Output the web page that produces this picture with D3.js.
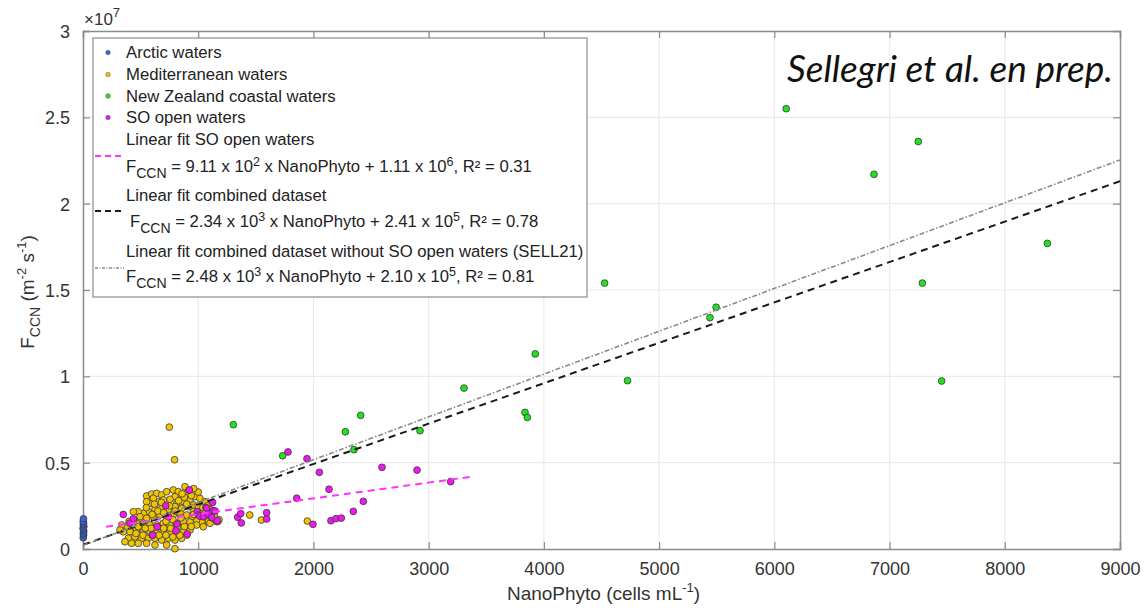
<!DOCTYPE html>
<html>
<head>
<meta charset="utf-8">
<script src="https://cdn.jsdelivr.net/npm/d3@7"></script>
<style>
  html, body { margin: 0; padding: 0; background: #fff; }
  svg { display: block; }
  text { font-family: "Liberation Sans", Arial, sans-serif; }
</style>
</head>
<body>
<svg id="chart" width="1145" height="610"></svg>
<script>
// ---------------- DATA (x: cells mL-1, y: FCCN in units of 1e6 m-2 s-1) ----------------
const xTicks = [0, 1000, 2000, 3000, 4000, 5000, 6000, 7000, 8000, 9000];
const xTickLabels = ["0", "1000", "2000", "3000", "4000", "5000", "6000", "7000", "8000", "9000"];
const yTicks = [0, 5, 10, 15, 20, 25, 30];
const yTickLabels = ["0", "0.5", "1", "1.5", "2", "2.5", "3"];

const arctic = [
  [2, 0.65], [5, 0.8], [3, 0.9], [6, 1.0], [4, 1.1], [1, 1.2], [7, 1.3], [3, 1.4], [5, 1.5], [2, 1.6], [4, 1.75]
];

const mediterranean = [
  [552, 3.07], [596, 3.18], [639, 3.22], [683, 3.13], [726, 3.32], [784, 3.42], [827, 3.32], [885, 3.61],
  [900, 3.22], [856, 2.93], [798, 3.03], [755, 2.88], [697, 2.84], [654, 2.74], [610, 2.93], [581, 2.64],
  [552, 2.74], [813, 2.64], [871, 2.74], [929, 2.84], [972, 3.03], [1015, 2.93], [1059, 2.74], [958, 2.55],
  [914, 2.45], [856, 2.35], [798, 2.45], [741, 2.30], [683, 2.35], [625, 2.30], [567, 2.16], [524, 2.06],
  [480, 2.16], [437, 2.16], [495, 1.87], [552, 1.78], [610, 1.87], [668, 1.97], [726, 1.87], [784, 1.97],
  [842, 2.06], [900, 1.97], [958, 2.16], [1015, 2.26], [1059, 2.06], [1102, 1.87], [1146, 1.68], [1088, 1.58],
  [1030, 1.58], [986, 1.68], [929, 1.58], [871, 1.58], [813, 1.49], [755, 1.39], [697, 1.49], [639, 1.39],
  [581, 1.39], [524, 1.49], [466, 1.49], [422, 1.39], [379, 1.29], [336, 1.39], [350, 1.00], [408, 1.00],
  [466, 1.10], [524, 1.00], [581, 1.00], [639, 0.91], [697, 1.00], [755, 1.00], [813, 0.91], [871, 1.00],
  [929, 1.10], [393, 0.62], [451, 0.71], [509, 0.62], [567, 0.62], [625, 0.62], [683, 0.52], [741, 0.62],
  [798, 0.52], [856, 0.62], [422, 0.33], [480, 0.33], [552, 0.33], [625, 0.23], [726, 0.23], [798, 0.02],
  [364, 0.42], [321, 1.10], [986, 1.39], [1044, 1.29], [1102, 1.49], [1160, 1.58], [1172, 1.60], [1120, 1.80],
  [600, 2.00], [650, 2.20], [700, 2.10], [750, 2.50], [800, 2.20], [850, 1.80], [900, 2.60], [950, 1.90],
  [1000, 2.50], [550, 2.40], [620, 2.60], [680, 2.70], [720, 1.60], [780, 1.70], [830, 2.80], [880, 3.00],
  [940, 3.10], [960, 2.00], [1040, 2.40], [1080, 2.50], [700, 1.20], [760, 1.20], [820, 1.30], [880, 1.30],
  [940, 1.30], [590, 1.20], [540, 1.20], [480, 1.30], [440, 1.70], [400, 1.60], [660, 0.80], [720, 0.80],
  [780, 0.70], [600, 0.80], [520, 0.80], [460, 0.90], [840, 0.80], [900, 0.80], [1000, 3.30], [920, 3.40],
  [960, 3.50], [860, 3.20], [1100, 2.30], [1120, 2.10], [1140, 1.90], [1180, 1.70],
  [749, 7.06], [795, 5.17], [1447, 1.97], [1548, 1.68], [1947, 1.62]
];

const newZealand = [
  [1305, 7.20], [1733, 5.40], [2277, 6.79], [2410, 7.74], [2352, 5.75], [2925, 6.85], [3307, 9.32],
  [3836, 7.91], [3856, 7.62], [3925, 11.3], [4527, 15.4], [4726, 9.75], [5441, 13.4], [5495, 14.0],
  [6103, 25.5], [6865, 21.7], [7249, 23.6], [7285, 15.4], [7452, 9.73], [8370, 17.7]
];

const soOpen = [
  [350, 2.0], [405, 1.5], [437, 1.75], [605, 0.81], [645, 1.29], [718, 2.5], [741, 1.87], [807, 1.05],
  [816, 1.45], [905, 0.87], [923, 3.42], [992, 2.16], [1004, 1.97], [1015, 1.9], [1044, 1.87], [1067, 2.4],
  [1073, 2.36], [1088, 2.03], [1117, 1.83], [1125, 2.7], [1131, 2.22], [1146, 2.2], [1166, 1.64],
  [1342, 1.84], [1369, 2.05], [1374, 1.51], [1594, 2.10], [1594, 1.74], [1779, 5.62], [1855, 2.94],
  [1944, 5.23], [1996, 1.43], [2051, 4.44], [2135, 3.46], [2152, 1.64], [2196, 1.76], [2242, 1.79],
  [2346, 2.18], [2433, 2.76], [2595, 4.73], [2899, 4.57], [3191, 3.90]
];

// fitted lines (end points)
const fitSO = [[200, 1.29], [3400, 4.21]];
const fitCombined = [[0, 0.241], [9000, 21.3]];
const fitSell21 = [[0, 0.21], [9000, 22.53]];

const legendLabels = [
  "Arctic waters", "Mediterranean waters", "New Zealand coastal waters", "SO open waters",
  "Linear fit SO open waters", "Linear fit combined dataset",
  "Linear fit combined dataset without SO open waters (SELL21)"
];
const equations = [
  ["9.11", "2", "1.11", "6", "0.31"],
  ["2.34", "3", "2.41", "5", "0.78"],
  ["2.48", "3", "2.10", "5", "0.81"]
];

// ---------------- STYLE ----------------
const colors = { arctic: "#3565d6", med: "#f0c400", nz: "#22e022", so: "#ee18ee" };
const axisColor = "#8c8c8c";
const textColor = "#333333";
const gridColor = "#ebebeb";

const m = { left: 83, right: 1120, top: 31, bottom: 549 };

const svg = d3.select("#chart");
const x = d3.scaleLinear().domain([0, 9000]).range([m.left, m.right]);
const y = d3.scaleLinear().domain([0, 30]).range([m.bottom, m.top]);

// grid
const grid = svg.append("g");
grid.selectAll(".gx").data(xTicks.slice(1, -1)).enter().append("line")
  .attr("x1", d => x(d)).attr("x2", d => x(d)).attr("y1", m.top).attr("y2", m.bottom)
  .attr("stroke", gridColor).attr("stroke-width", 1.2);
grid.selectAll(".gy").data(yTicks.slice(1, -1)).enter().append("line")
  .attr("y1", d => y(d)).attr("y2", d => y(d)).attr("x1", m.left).attr("x2", m.right)
  .attr("stroke", gridColor).attr("stroke-width", 1.2);

// axes with inward ticks
const tickLen = 7;
const xAxisB = d3.axisBottom(x).tickValues(xTicks).tickSize(-tickLen).tickPadding(tickLen + 6)
  .tickFormat((d, i) => xTickLabels[i]);
const gxb = svg.append("g").attr("transform", `translate(0,${m.bottom})`).call(xAxisB);
const xAxisT = d3.axisTop(x).tickValues(xTicks).tickSize(-tickLen).tickFormat("");
const gxt = svg.append("g").attr("transform", `translate(0,${m.top})`).call(xAxisT);
const yAxisL = d3.axisLeft(y).tickValues(yTicks).tickSize(-tickLen).tickPadding(tickLen + 6)
  .tickFormat((d, i) => yTickLabels[i]);
const gyl = svg.append("g").attr("transform", `translate(${m.left},0)`).call(yAxisL);
const yAxisR = d3.axisRight(y).tickValues(yTicks).tickSize(-tickLen).tickFormat("");
const gyr = svg.append("g").attr("transform", `translate(${m.right},0)`).call(yAxisR);

[gxb, gxt, gyl, gyr].forEach(g => {
  g.select(".domain").attr("stroke", axisColor).attr("stroke-width", 1.5);
  g.selectAll(".tick line").attr("stroke", axisColor).attr("stroke-width", 1.2);
  g.selectAll(".tick text").attr("fill", textColor).style("font-size", "18px")
    .style("font-family", "'Liberation Sans', Arial, sans-serif");
});
gyl.selectAll(".tick text").attr("dy", "0.36em");

// scale factor label
const sf = svg.append("text").attr("x", 84).attr("y", 25).attr("fill", textColor)
  .style("font-size", "17px");
sf.append("tspan").text("×10");
sf.append("tspan").attr("dy", -8).style("font-size", "13px").text("7");

// axis titles
const xl = svg.append("text").attr("x", (m.left + m.right) / 2 + 2).attr("y", 600)
  .attr("text-anchor", "middle").attr("fill", textColor).style("font-size", "19px");
xl.append("tspan").text("NanoPhyto (cells mL");
xl.append("tspan").attr("dy", -8).style("font-size", "13px").text("-1");
xl.append("tspan").attr("dy", 8).text(")");

const yl = svg.append("text").attr("transform", "translate(34,292) rotate(-90)")
  .attr("text-anchor", "middle").attr("fill", textColor).style("font-size", "19px");
yl.append("tspan").text("F");
yl.append("tspan").attr("dy", 6).style("font-size", "14px").text("CCN");
yl.append("tspan").attr("dy", -6).text(" (m");
yl.append("tspan").attr("dy", -8).style("font-size", "13px").text("-2");
yl.append("tspan").attr("dy", 8).text(" s");
yl.append("tspan").attr("dy", -8).style("font-size", "13px").text("-1");
yl.append("tspan").attr("dy", 8).text(")");

// clip (for fit lines only)
svg.append("clipPath").attr("id", "clip").append("rect")
  .attr("x", m.left).attr("y", m.top).attr("width", m.right - m.left).attr("height", m.bottom - m.top);
const pts = svg.append("g");
const plot = svg.append("g").attr("clip-path", "url(#clip)");

function drawPoints(data, color) {
  pts.append("g").selectAll("circle").data(data).enter().append("circle")
    .attr("cx", d => x(d[0])).attr("cy", d => y(d[1])).attr("r", 3.4)
    .attr("fill", color).attr("stroke", "#3a3a3a").attr("stroke-width", 0.8);
}
drawPoints(arctic, colors.arctic);
drawPoints(mediterranean, colors.med);
drawPoints(newZealand, colors.nz);
drawPoints(soOpen, colors.so);

const line = d3.line().x(d => x(d[0])).y(d => y(d[1]));
plot.append("path").datum(fitSO).attr("d", line).attr("fill", "none")
  .attr("stroke", "#ff33ff").attr("stroke-width", 2).attr("stroke-dasharray", "7,5");
plot.append("path").datum(fitCombined).attr("d", line).attr("fill", "none")
  .attr("stroke", "#1a1a1a").attr("stroke-width", 2).attr("stroke-dasharray", "7,5");
plot.append("path").datum(fitSell21).attr("d", line).attr("fill", "none")
  .attr("stroke", "#8a8a8a").attr("stroke-width", 1.6).attr("stroke-dasharray", "5,2,1.5,2");

// legend
const LF = "16.7px";
const lg = svg.append("g");
lg.append("rect").attr("x", 93).attr("y", 38).attr("width", 494).attr("height", 259)
  .attr("fill", "#fff").attr("stroke", axisColor).attr("stroke-width", 1.2);

const markerRows = [
  { c: colors.arctic, yb: 58 }, { c: colors.med, yb: 80 }, { c: colors.nz, yb: 101.5 }, { c: colors.so, yb: 123 }
];
markerRows.forEach((r, i) => {
  lg.append("circle").attr("cx", 108).attr("cy", r.yb - 5.5).attr("r", 2.3)
    .attr("fill", r.c).attr("stroke", "#555").attr("stroke-width", 0.5);
  lg.append("text").attr("x", 126).attr("y", r.yb).attr("fill", "#222").style("font-size", LF)
    .text(legendLabels[i]);
});
const fitRows = [
  { title: 145, eq: 171.5, lineY: 156, color: "#ff33ff", dash: "6,4", w: 1.8, ex: 126 },
  { title: 200.5, eq: 226.5, lineY: 211, color: "#1a1a1a", dash: "6,4", w: 1.8, ex: 130 },
  { title: 256.5, eq: 281.5, lineY: 268, color: "#8a8a8a", dash: "3,1.5,1,1.5", w: 1.3, ex: 126 }
];
fitRows.forEach((r, i) => {
  lg.append("text").attr("x", 126).attr("y", r.title).attr("fill", "#222").style("font-size", LF)
    .text(legendLabels[4 + i]);
  lg.append("line").attr("x1", 95).attr("x2", 124).attr("y1", r.lineY).attr("y2", r.lineY)
    .attr("stroke", r.color).attr("stroke-width", r.w).attr("stroke-dasharray", r.dash);
  const e = equations[i];
  const t = lg.append("text").attr("x", r.ex).attr("y", r.eq).attr("fill", "#222").style("font-size", LF);
  t.append("tspan").text("F");
  t.append("tspan").attr("dy", 6).style("font-size", "14px").text("CCN");
  t.append("tspan").attr("dy", -6).text(` = ${e[0]} x 10`);
  t.append("tspan").attr("dy", -6).style("font-size", "12.5px").text(e[1]);
  t.append("tspan").attr("dy", 6).text(` x NanoPhyto + ${e[2]} x 10`);
  t.append("tspan").attr("dy", -6).style("font-size", "12.5px").text(e[3]);
  t.append("tspan").attr("dy", 6).text(`, R² = ${e[4]}`);
});

// annotation
const ann = svg.append("text").attr("x", 1113).attr("y", 82).attr("text-anchor", "end")
  .attr("fill", "#111").style("font-family", "Lato, 'Open Sans', sans-serif")
  .style("font-style", "italic").style("font-size", "34px").text("Sellegri et al. en prep.");
const wAnn = ann.node().getComputedTextLength();
ann.style("font-size", (34 * 326 / wAnn).toFixed(2) + "px");
</script>
</body>
</html>
